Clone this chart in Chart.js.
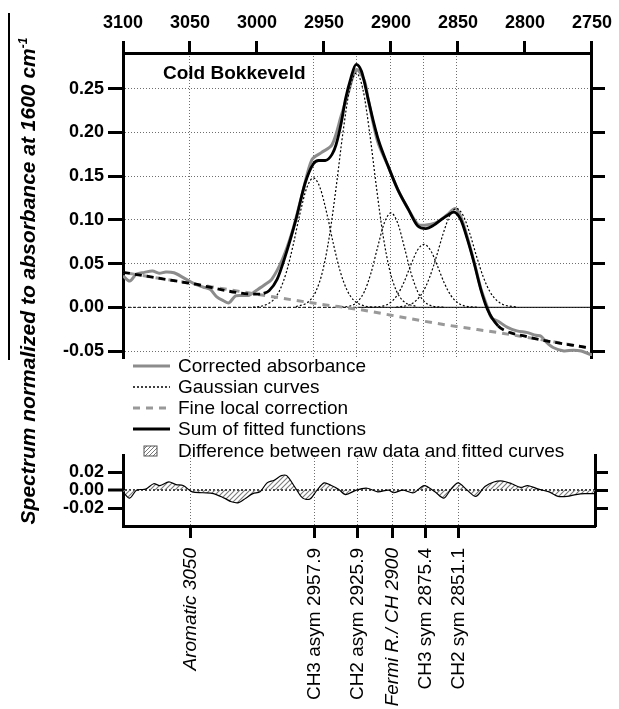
<!DOCTYPE html>
<html>
<head>
<meta charset="utf-8">
<script src="https://cdn.jsdelivr.net/npm/chart.js@4.4.1/dist/chart.umd.min.js"></script>
<style>
  body { margin: 0; background: #fff; }
  #wrap { position: relative; width: 619px; height: 709px; overflow: hidden; font-family: 'Liberation Sans', Arial, sans-serif; color: #000; }
  canvas { position: absolute; left: 0; }
  #main { top: 0; }
  #resid { top: 440px; }
  .ytitle { position: absolute; left: 28px; top: 281px; transform: translate(-50%, -50%) rotate(-90deg); white-space: nowrap; font-style: italic; font-weight: bold; font-size: 21px; }
  .ytitle sup { font-size: 12px; }
  .edge { position: absolute; left: 8px; top: 13px; width: 1.5px; height: 347px; background: #000; }
  .sample { position: absolute; left: 163px; top: 63px; font-weight: bold; font-size: 19px; line-height: 19px; white-space: nowrap; }
  .lg { position: absolute; left: 133px; height: 22px; display: flex; align-items: center; font-size: 19px; white-space: nowrap; z-index: 2; }
  .lg span { margin-left: 8px; }
</style>
</head>
<body>
<div id="wrap">
  <canvas id="main" width="619" height="380"></canvas>
  <canvas id="resid" width="619" height="269"></canvas>
  <div class="edge"></div>
  <div class="ytitle">Spectrum normalized to absorbance at 1600 cm<sup>-1</sup></div>
  <div class="sample">Cold Bokkeveld</div>

  <div class="lg" style="top:355px"><svg width="37" height="22"><line x1="0" y1="11" x2="37" y2="11" stroke="#8c8c8c" stroke-width="3"/></svg><span>Corrected absorbance</span></div>
  <div class="lg" style="top:376px"><svg width="37" height="22"><line x1="0" y1="11" x2="37" y2="11" stroke="#000" stroke-width="1.3" stroke-dasharray="2 2"/></svg><span>Gaussian curves</span></div>
  <div class="lg" style="top:397px"><svg width="37" height="22"><line x1="0" y1="11" x2="37" y2="11" stroke="#999" stroke-width="3" stroke-dasharray="7 6"/></svg><span>Fine local correction</span></div>
  <div class="lg" style="top:418px"><svg width="37" height="22"><line x1="0" y1="11" x2="37" y2="11" stroke="#000" stroke-width="3"/></svg><span>Sum of fitted functions</span></div>
  <div class="lg" style="top:440px"><svg width="37" height="22">
    <defs><pattern id="hp" width="4" height="4" patternUnits="userSpaceOnUse"><path d="M-1,1 l2,-2 M0,4 l4,-4 M3,5 l2,-2" stroke="#777" stroke-width="1"/></pattern></defs>
    <rect x="11" y="6" width="13" height="10" fill="url(#hp)" stroke="#555" stroke-width="1"/></svg><span>Difference between raw data and fitted curves</span></div>
</div>

<script>
const FONT = "'Liberation Sans', Arial, sans-serif"

// corrected absorbance (grey)
const corrWn = [3100, 3095, 3090, 3084, 3078, 3073, 3068, 3062, 3055, 3047, 3040, 3035, 3030, 3025, 3021, 3016, 3010, 3006, 3001, 2994, 2989, 2981, 2974, 2966, 2959, 2952, 2944, 2937, 2932, 2926, 2920, 2917, 2910, 2902, 2895, 2887, 2880, 2875, 2870, 2865, 2858, 2852, 2848, 2843, 2838, 2833, 2828, 2825, 2820, 2813, 2806, 2798, 2792, 2788, 2784, 2779, 2771, 2764, 2758, 2751, 2750]
const corrAbs = [0.036, 0.030, 0.038, 0.040, 0.0415, 0.039, 0.0405, 0.0395, 0.034, 0.027, 0.023, 0.0206, 0.012, 0.0075, 0.005, 0.013, 0.0135, 0.0137, 0.0187, 0.026, 0.032, 0.055, 0.085, 0.131, 0.169, 0.177, 0.186, 0.22, 0.245, 0.272, 0.26, 0.238, 0.19, 0.161, 0.135, 0.112, 0.095, 0.094, 0.095, 0.098, 0.106, 0.113, 0.104, 0.080, 0.052, 0.022, 0.000, -0.012, -0.016, -0.023, -0.027, -0.029, -0.032, -0.033, -0.040, -0.046, -0.050, -0.049, -0.050, -0.054, -0.054]

// sum of fitted functions (black)
const sumWn = [3100, 3050, 3000, 2995, 2991, 2985, 2979, 2971, 2964, 2958, 2954, 2949, 2944, 2941, 2937, 2934, 2930, 2926, 2922, 2917, 2913, 2909.5, 2902, 2895, 2887, 2880, 2874, 2868, 2862, 2857, 2853, 2848, 2843, 2838, 2833, 2828, 2820, 2811, 2800, 2796, 2750]
const sumAbs = [0.040, 0.0275, 0.015, 0.016, 0.019, 0.032, 0.058, 0.100, 0.1425, 0.164, 0.168, 0.168, 0.175, 0.186, 0.212, 0.238, 0.262, 0.278, 0.27, 0.238, 0.212, 0.192, 0.161, 0.135, 0.112, 0.093, 0.090, 0.094, 0.101, 0.106, 0.109, 0.1006, 0.078, 0.051, 0.0206, -0.0023, -0.0213, -0.029, -0.033, -0.0347, -0.047]

// fine local correction (grey dashed)
const baseWn = [3100, 3050, 3000, 2950, 2926, 2900, 2875, 2851, 2820, 2800, 2750]
const baseAbs = [0.040, 0.0275, 0.015, 0.003, -0.002, -0.009, -0.016, -0.022, -0.029, -0.034, -0.047]

// gaussian components
const g1Wn = [3002.9, 2997.9, 2987.9, 2982.9, 2977.9, 2972.9, 2967.9, 2962.9, 2957.9, 2952.9, 2947.9, 2942.9, 2937.9, 2932.9, 2927.9, 2917.9, 2912.9]
const g1Abs = [0.0002, 0.0009, 0.0083, 0.0200, 0.0411, 0.0720, 0.1075, 0.1366, 0.148, 0.1366, 0.1075, 0.0720, 0.0411, 0.0200, 0.0083, 0.0009, 0.0002]
const g2Wn = [2970.9, 2960.9, 2955.9, 2950.9, 2945.9, 2940.9, 2935.9, 2930.9, 2925.9, 2920.9, 2915.9, 2910.9, 2905.9, 2900.9, 2895.9, 2890.9, 2880.9]
const g2Abs = [0.0007, 0.0072, 0.0187, 0.0421, 0.0821, 0.1378, 0.1994, 0.2490, 0.268, 0.2490, 0.1994, 0.1378, 0.0821, 0.0421, 0.0187, 0.0072, 0.0007]
const g3Wn = [2940, 2930, 2925, 2920, 2915, 2910, 2905, 2900, 2895, 2890, 2885, 2880, 2875, 2870, 2860]
const g3Abs = [0.0001, 0.0018, 0.0064, 0.0176, 0.0389, 0.0686, 0.0964, 0.108, 0.0964, 0.0686, 0.0389, 0.0176, 0.0064, 0.0018, 0.0001]
const g4Wn = [2915.4, 2905.4, 2900.4, 2895.4, 2890.4, 2885.4, 2880.4, 2875.4, 2870.4, 2865.4, 2860.4, 2855.4, 2850.4, 2845.4, 2835.4]
const g4Abs = [0.0001, 0.0017, 0.0054, 0.0138, 0.0284, 0.0476, 0.0650, 0.072, 0.0650, 0.0476, 0.0284, 0.0138, 0.0054, 0.0017, 0.0001]
const g5Wn = [2896.1, 2886.1, 2881.1, 2876.1, 2871.1, 2866.1, 2861.1, 2856.1, 2851.1, 2846.1, 2841.1, 2836.1, 2831.1, 2826.1, 2821.1, 2816.1, 2806.1]
const g5Abs = [0.0003, 0.0030, 0.0079, 0.0177, 0.0346, 0.0581, 0.0841, 0.1050, 0.113, 0.1050, 0.0841, 0.0581, 0.0346, 0.0177, 0.0079, 0.0030, 0.0003]

// zero reference line
const zeroWn = [3100, 2925, 2750]
const zeroAbs = [0, 0, 0]

// difference raw - fit
const residWn = [3100, 3095.1, 3089.8, 3083.2, 3077.3, 3072.6, 3066.0, 3060.7, 3055.4, 3048.7, 3040.8, 3032.9, 3024.9, 3019.6, 3014.3, 3009.0, 3003.7, 2998.4, 2993.2, 2987.9, 2982.6, 2978.6, 2972.0, 2966.7, 2961.4, 2956.1, 2950.8, 2945.5, 2940.2, 2934.9, 2927.0, 2919.0, 2911.1, 2903.1, 2899.2, 2892.5, 2884.6, 2876.7, 2868.7, 2862.1, 2856.8, 2851.5, 2844.9, 2838.3, 2831.6, 2825.0, 2818.4, 2811.8, 2805.2, 2799.9, 2791.9, 2784.0, 2777.4, 2770.8, 2764.1, 2757.5, 2750]
const residVal = [-0.002, -0.009, 0, 0.001, 0.007, 0.005, 0.009, 0.006, 0.005, -0.002, -0.003, -0.004, -0.009, -0.013, -0.014, -0.009, -0.004, -0.002, 0.008, 0.011, 0.016, 0.016, 0.002, -0.009, -0.010, 0, 0.008, 0.005, 0.001, -0.005, 0, 0.002, -0.002, 0, -0.003, 0, -0.003, 0.005, -0.002, -0.009, 0.001, 0.008, 0, -0.007, 0.004, 0.009, 0.010, 0.007, 0.003, 0.005, 0.001, -0.002, -0.007, -0.007, -0.005, -0.004, -0.004]

const peakPos = [3050, 2957.9, 2925.9, 2900, 2875.4, 2851.1]
const peakLabels = ['Aromatic 3050', 'CH3 asym 2957.9', 'CH2 asym 2925.9', 'Fermi R./ CH 2900', 'CH3 sym 2875.4', 'CH2 sym 2851.1']
const peakItalic = [true, false, false, true, false, false]
const mainYTicks = [-0.05, 0, 0.05, 0.10, 0.15, 0.20, 0.25]
const residYTicks = [-0.02, 0, 0.02]

const pts = (xs, ys) => xs.map((x, i) => ({ x, y: ys[i] }))
const tickFont = { family: FONT, size: 18, weight: 'bold' }
const gridGrey = '#6e6e6e'

function gaussSet(xs, ys) {
  return {
    data: pts(xs, ys), borderColor: '#000', borderWidth: 1.2, borderDash: [2, 2],
    cubicInterpolationMode: 'monotone', xAxisID: 'x', yAxisID: 'y'
  }
}

function hatchPattern() {
  const c = document.createElement('canvas')
  c.width = 5
  c.height = 5
  const g = c.getContext('2d')
  g.strokeStyle = '#7a7a7a'
  g.lineWidth = 1.1
  g.beginPath()
  g.moveTo(-1, 6); g.lineTo(6, -1)
  g.moveTo(-1, 1); g.lineTo(1, -1)
  g.moveTo(4, 6); g.lineTo(6, 4)
  g.stroke()
  return c.getContext('2d').createPattern(c, 'repeat')
}

new Chart(document.getElementById('main'), {
  type: 'line',
  data: {
    datasets: [
      {
        data: pts(sumWn, sumAbs), borderColor: '#000', borderWidth: 2.8,
        cubicInterpolationMode: 'monotone', xAxisID: 'x', yAxisID: 'y',
        segment: {
          borderDash: ctx => (ctx.p0.parsed.x > 2995 || ctx.p1.parsed.x < 2815) ? [7, 5] : undefined
        }
      },
      {
        data: pts(baseWn, baseAbs), borderColor: '#999', borderWidth: 3, borderDash: [7, 6],
        borderDashOffset: 6, cubicInterpolationMode: 'monotone', xAxisID: 'x', yAxisID: 'y'
      },
      gaussSet(g1Wn, g1Abs),
      gaussSet(g2Wn, g2Abs),
      gaussSet(g3Wn, g3Abs),
      gaussSet(g4Wn, g4Abs),
      gaussSet(g5Wn, g5Abs),
      {
        data: pts(zeroWn, zeroAbs), borderColor: '#000', borderWidth: 1, xAxisID: 'x', yAxisID: 'y',
        segment: { borderDash: ctx => ctx.p0.parsed.x > 2930 ? [3, 2] : undefined }
      },
      {
        data: pts(corrWn, corrAbs), borderColor: '#8c8c8c', borderWidth: 3, tension: 0.3,
        xAxisID: 'x', yAxisID: 'y'
      }
    ]
  },
  options: {
    responsive: false,
    animation: false,
    layout: { padding: 0 },
    elements: { point: { radius: 0 } },
    plugins: { legend: { display: false }, tooltip: { enabled: false } },
    scales: {
      x: {
        type: 'linear', position: 'top', reverse: true, min: 2750, max: 3100,
        ticks: { stepSize: 50, color: '#000', font: tickFont, padding: 7, maxRotation: 0, callback: v => String(v) },
        grid: { drawOnChartArea: false, drawTicks: true, tickLength: 12, tickWidth: 3, tickColor: '#000' },
        border: { display: true, width: 3, color: '#000' },
        afterFit: s => { s.height = 53 }
      },
      xg: {
        type: 'linear', position: 'bottom', reverse: true, min: 2750, max: 3100,
        afterBuildTicks: s => { s.ticks = peakPos.map(v => ({ value: v })) },
        ticks: { display: false },
        grid: { color: gridGrey, lineWidth: 1, drawTicks: false },
        border: { display: false, dash: [1, 2] },
        afterFit: s => { s.height = 22 }
      },
      y: {
        position: 'left', min: -0.058, max: 0.291,
        afterBuildTicks: s => { s.ticks = mainYTicks.map(v => ({ value: v })) },
        ticks: { color: '#000', font: tickFont, padding: 4, callback: v => v.toFixed(2) },
        grid: { color: gridGrey, lineWidth: 1, tickLength: 15, tickWidth: 3, tickColor: '#000' },
        border: { display: true, width: 3, color: '#000', dash: [1, 2] },
        afterFit: s => { s.width = 123 }
      },
      y2: {
        position: 'right', min: -0.058, max: 0.291,
        afterBuildTicks: s => { s.ticks = mainYTicks.map(v => ({ value: v })) },
        ticks: { display: false },
        grid: { drawOnChartArea: false, tickLength: 13, tickWidth: 3, tickColor: '#000' },
        border: { display: true, width: 3, color: '#000' },
        afterFit: s => { s.width = 24 }
      }
    }
  }
})

new Chart(document.getElementById('resid'), {
  type: 'line',
  data: {
    datasets: [{
      data: pts(residWn, residVal), borderColor: '#000', borderWidth: 1.2, tension: 0.3,
      fill: 'origin', backgroundColor: hatchPattern(), xAxisID: 'x', yAxisID: 'y'
    }]
  },
  options: {
    responsive: false,
    animation: false,
    layout: { padding: { top: 15 } },
    elements: { point: { radius: 0 } },
    plugins: { legend: { display: false }, tooltip: { enabled: false } },
    scales: {
      x: {
        type: 'linear', position: 'bottom', reverse: true, min: 2750, max: 3100,
        afterBuildTicks: s => { s.ticks = peakPos.map(v => ({ value: v })) },
        ticks: {
          autoSkip: false, minRotation: 90, maxRotation: 90, padding: 10, color: '#000',
          font: ctx => ({ family: FONT, size: 19, style: peakItalic[ctx.index] ? 'italic' : 'normal' }),
          callback: (v, i) => peakLabels[i]
        },
        grid: { color: gridGrey, lineWidth: 1, tickLength: 12, tickWidth: 3, tickColor: '#000' },
        border: { display: true, width: 3, color: '#000', dash: [1, 2] },
        afterFit: s => { s.height = 183 }
      },
      y: {
        position: 'left', min: -0.04, max: 0.039,
        afterBuildTicks: s => { s.ticks = residYTicks.map(v => ({ value: v })) },
        ticks: { color: '#000', font: tickFont, padding: 4, callback: v => v.toFixed(2) },
        grid: {
          color: ctx => ctx.tick && ctx.tick.value === 0 ? '#444' : 'rgba(0,0,0,0)',
          lineWidth: ctx => ctx.tick && ctx.tick.value === 0 ? 2 : 1,
          tickLength: 15, tickWidth: 3, tickColor: '#000'
        },
        border: { display: true, width: 3, color: '#000', dash: [2, 2] },
        afterFit: s => { s.width = 123 }
      },
      y2: {
        position: 'right', min: -0.04, max: 0.039,
        afterBuildTicks: s => { s.ticks = residYTicks.map(v => ({ value: v })) },
        ticks: { display: false },
        grid: { drawOnChartArea: false, tickLength: 13, tickWidth: 3, tickColor: '#000' },
        border: { display: true, width: 3, color: '#000' },
        afterFit: s => { s.width = 24 }
      }
    }
  }
})
</script>
</body>
</html>
